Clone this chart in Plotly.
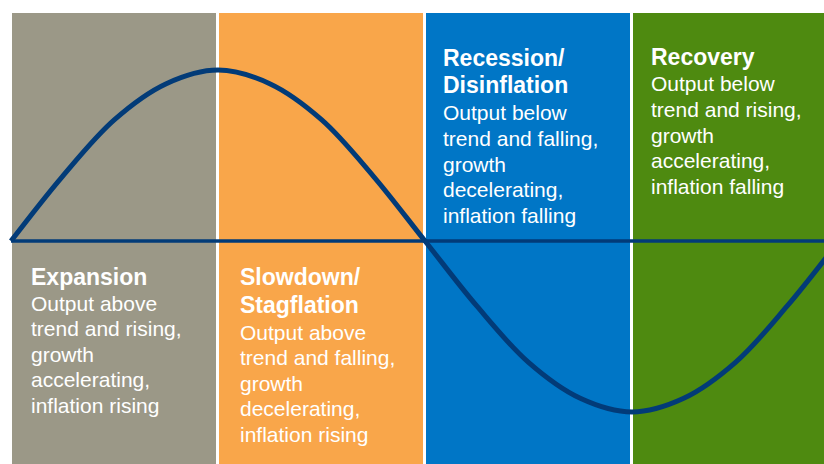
import plotly.graph_objects as go

# Four phases of the business cycle, one quarter-period each
titles = [
    ["Expansion"],
    ["Slowdown/", "Stagflation"],
    ["Recession/", "Disinflation"],
    ["Recovery"],
]
descriptions = [
    ["Output above", "trend and rising,", "growth", "accelerating,", "inflation rising"],
    ["Output above", "trend and falling,", "growth", "decelerating,", "inflation rising"],
    ["Output below", "trend and falling,", "growth", "decelerating,", "inflation falling"],
    ["Output below", "trend and rising,", "growth", "accelerating,", "inflation falling"],
]
panel_colors = ["#9B9887", "#F9A64A", "#0076C6", "#4E8A10"]
panel_centers = [0.5, 1.5, 2.5, 3.5]

# Output gap curve (quarter-period units)
cycle_x = [0, 0.25, 0.5, 0.75, 1, 1.25, 1.5, 1.75, 2,
           2.25, 2.5, 2.75, 3, 3.25, 3.5, 3.75, 4]
cycle_y = [0, 0.38, 0.71, 0.92, 1, 0.92, 0.71, 0.38, 0,
           -0.38, -0.71, -0.92, -1, -0.92, -0.71, -0.38, 0]
trend_x = [0, 4]
trend_y = [0, 0]

NAVY = "#023B78"
W, H = 824, 464

# pixel layout: phase 0 at x=11 px, 207 px per quarter; trend at y=241 px, amplitude 171 px
PX0, QPX, YC, AMP = 11, 207, 241, 171
x_range = [(0 - PX0) / QPX, (W - PX0) / QPX]
y_range = [(YC - H) / AMP, YC / AMP]
panel_top = (YC - 12) / AMP
panel_base = y_range[0] - 0.1

fig = go.Figure()

fig.add_trace(go.Bar(
    x=panel_centers,
    y=[panel_top - panel_base] * 4,
    base=panel_base,
    width=1,
    marker=dict(color=panel_colors, line=dict(color="white", width=3)),
    hoverinfo="skip",
    showlegend=False,
))

fig.add_trace(go.Scatter(
    x=trend_x, y=trend_y, mode="lines",
    line=dict(color=NAVY, width=3.5),
    hoverinfo="skip", showlegend=False,
))
fig.add_trace(go.Scatter(
    x=cycle_x, y=cycle_y, mode="lines",
    line=dict(color=NAVY, width=5, shape="spline", smoothing=1.0),
    hoverinfo="skip", showlegend=False,
))

# centre of first title line and first body line, in pixels from the top
text_rows = [(277, 303), (277, 332), (58, 113), (57, 84)]
x_shifts = [19, 21, 17, 18]
TITLE_STEP, BODY_STEP = 27.5, 25.5

font_family = "Liberation Sans, Arial, sans-serif"


def add_line(i, text, py, size, bold=False):
    fig.add_annotation(
        x=i, y=1 - py / H, xref="x", yref="paper",
        xanchor="left", yanchor="middle", xshift=x_shifts[i] - 1,
        text=f"<b>{text}</b>" if bold else text,
        showarrow=False, align="left",
        font=dict(family=font_family, size=size, color="white"),
    )


for i in range(4):
    t0, b0 = text_rows[i]
    for k, line in enumerate(titles[i]):
        add_line(i, line, t0 + k * TITLE_STEP, 23, bold=True)
    for k, line in enumerate(descriptions[i]):
        add_line(i, line, b0 + k * BODY_STEP, 21)

fig.update_layout(
    width=W, height=H,
    margin=dict(l=0, r=0, t=0, b=0),
    paper_bgcolor="white", plot_bgcolor="white",
    bargap=0,
    xaxis=dict(range=x_range, visible=False, fixedrange=True),
    yaxis=dict(range=y_range, visible=False, fixedrange=True),
)

fig.write_html(
    "out.html",
    config={"displayModeBar": False},
    post_script="document.body.style.margin='0';",
)
